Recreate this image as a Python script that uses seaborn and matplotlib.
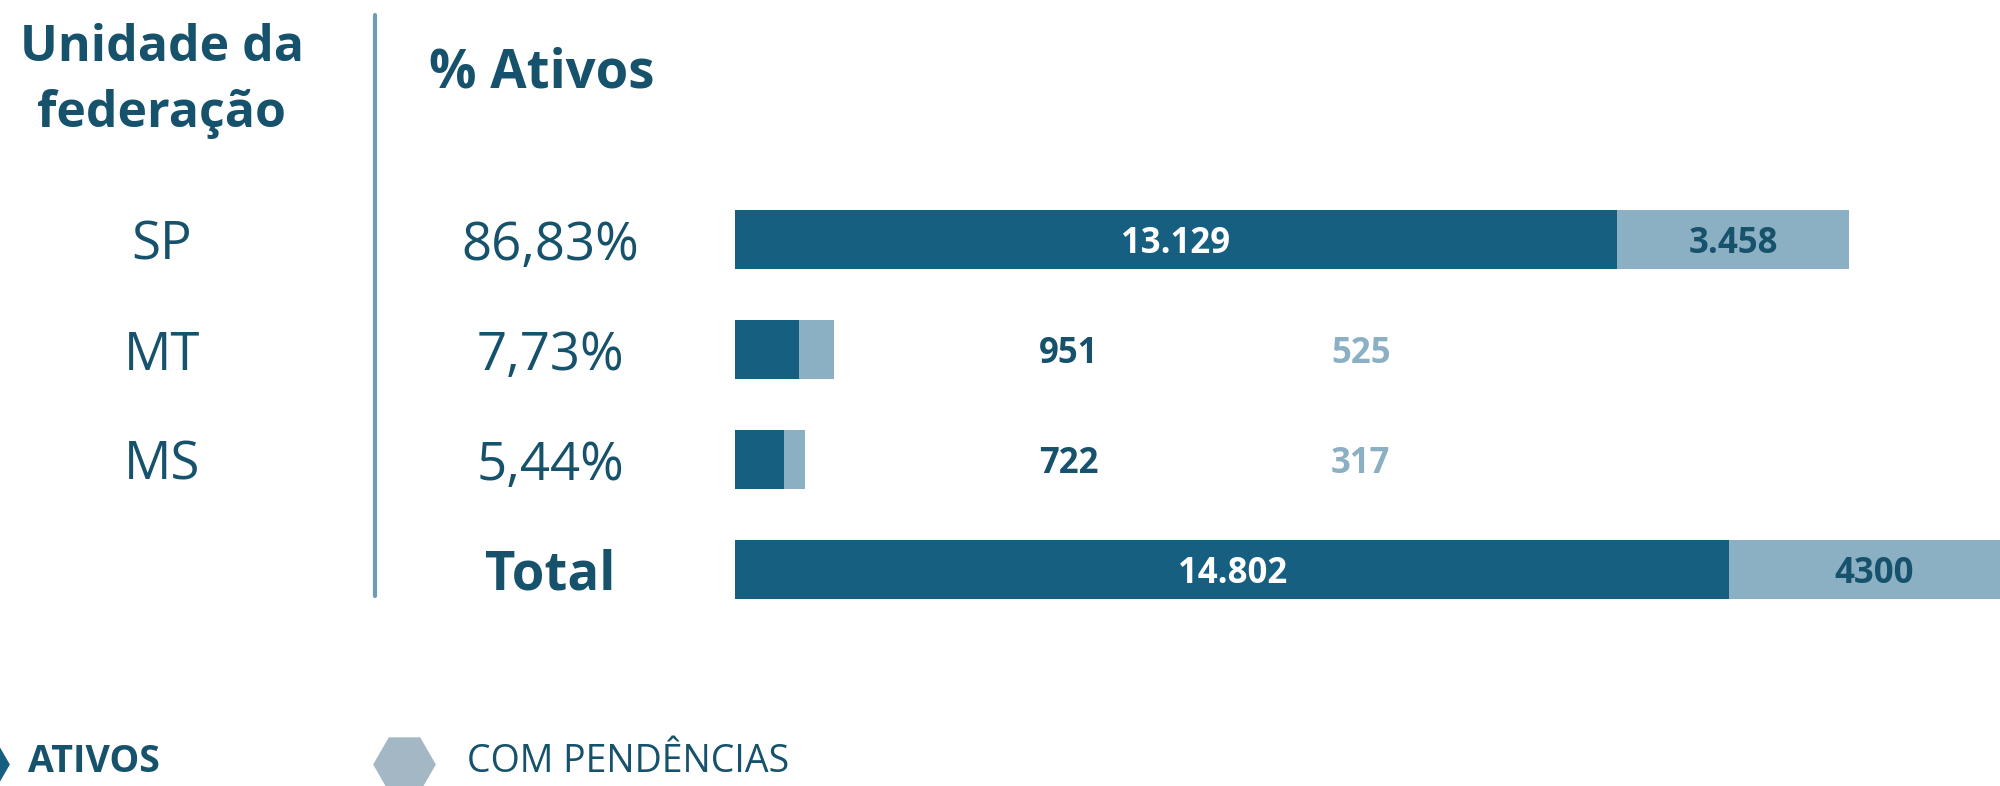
import numpy as np
import pandas as pd
import matplotlib.pyplot as plt
import seaborn as sns
from matplotlib import transforms
from matplotlib.lines import Line2D

# data
uf = ["SP", "MT", "MS", "Total"]
ativos = [13129, 951, 722, 14802]
pendencias = [3458, 525, 317, 4300]
pct_ativos = ["86,83%", "7,73%", "5,44%", "Total"]
ativos_lbl = ["13.129", "951", "722", "14.802"]
pend_lbl = ["3.458", "525", "317", "4300"]

DARK = "#175f80"
LIGHT = "#8cb0c3"
TXT = "#16526b"
LINE = "#6f9bb5"
HEX_LIGHT = "#a3b7c4"

df = pd.DataFrame({"uf": uf, "ativos": ativos, "pend": pendencias})
df["total"] = df["ativos"] + df["pend"]

sns.set_style("white")
plt.rcParams["font.family"] = ["Open Sans", "DejaVu Sans"]

fig = plt.figure(figsize=(20, 7.86), dpi=100)
ax = fig.add_axes([0.3675, 0.2055, 0.6325, 0.5598])

sns.barplot(data=df, x="total", y="uf", color=LIGHT, saturation=1, width=0.53,
            linewidth=0, ax=ax)
sns.barplot(data=df, x="ativos", y="uf", color=DARK, saturation=1, width=0.53,
            linewidth=0, ax=ax)

ax.set_xlim(0, 18830)
ax.set_ylim(3.5, -0.5)
ax.axis("off")

# numbers on the bars (small bars get their labels out to the right)
small_x1, small_x2 = 4970, 9315
for i in range(len(uf)):
    a, p = ativos[i], pendencias[i]
    if a > 5000:
        ax.text(a / 2, i, ativos_lbl[i], color="white", fontsize=25, fontweight="bold",
                ha="center", va="center_baseline")
        ax.text(a + p / 2, i, pend_lbl[i], color=TXT, fontsize=25, fontweight="bold",
                ha="center", va="center_baseline", clip_on=False)
    else:
        ax.text(small_x1, i, ativos_lbl[i], color=TXT, fontsize=25, fontweight="bold",
                ha="center", va="center_baseline")
        ax.text(small_x2, i, pend_lbl[i], color=LIGHT, fontsize=25, fontweight="bold",
                ha="center", va="center_baseline")

# left columns
trans = transforms.blended_transform_factory(fig.transFigure, ax.transData)
for i in range(len(uf)):
    if uf[i] != "Total":
        ax.text(0.081, i, uf[i], transform=trans, color=TXT, fontsize=38,
                ha="center", va="center_baseline")
        ax.text(0.275, i, pct_ativos[i], transform=trans, color=TXT, fontsize=38,
                ha="center", va="center_baseline")
    else:
        ax.text(0.275, i, pct_ativos[i], transform=trans, color=TXT, fontsize=38,
                fontweight="bold", ha="center", va="center_baseline")

fig.text(0.081, 0.897, "Unidade da\nfederação", color=TXT, fontsize=36, fontweight="bold",
         ha="center", va="center", linespacing=1.42)
fig.text(0.271, 0.906, "% Ativos", color=TXT, fontsize=38, fontweight="bold",
         ha="center", va="center")
fig.add_artist(Line2D([0.1875, 0.1875], [1 - 15 / 786, 1 - 596 / 786], color=LINE, lw=3))

# legend along the bottom edge
leg = fig.add_axes([0, 0, 1, 1])
leg.set_xlim(0, 2000)
leg.set_ylim(786, 0)
leg.axis("off")
leg.plot([-22], [764], marker="H", markersize=44, color=DARK, linestyle="none")
leg.plot([404], [764], marker="H", markersize=44, color=HEX_LIGHT, linestyle="none")
leg.text(28, 762, "ATIVOS", color=TXT, fontsize=27, fontweight="bold", ha="left", va="center")
leg.text(467, 762, "COM PENDÊNCIAS", color=TXT, fontsize=27, ha="left", va="center")

plt.savefig("out.png", dpi=100)
